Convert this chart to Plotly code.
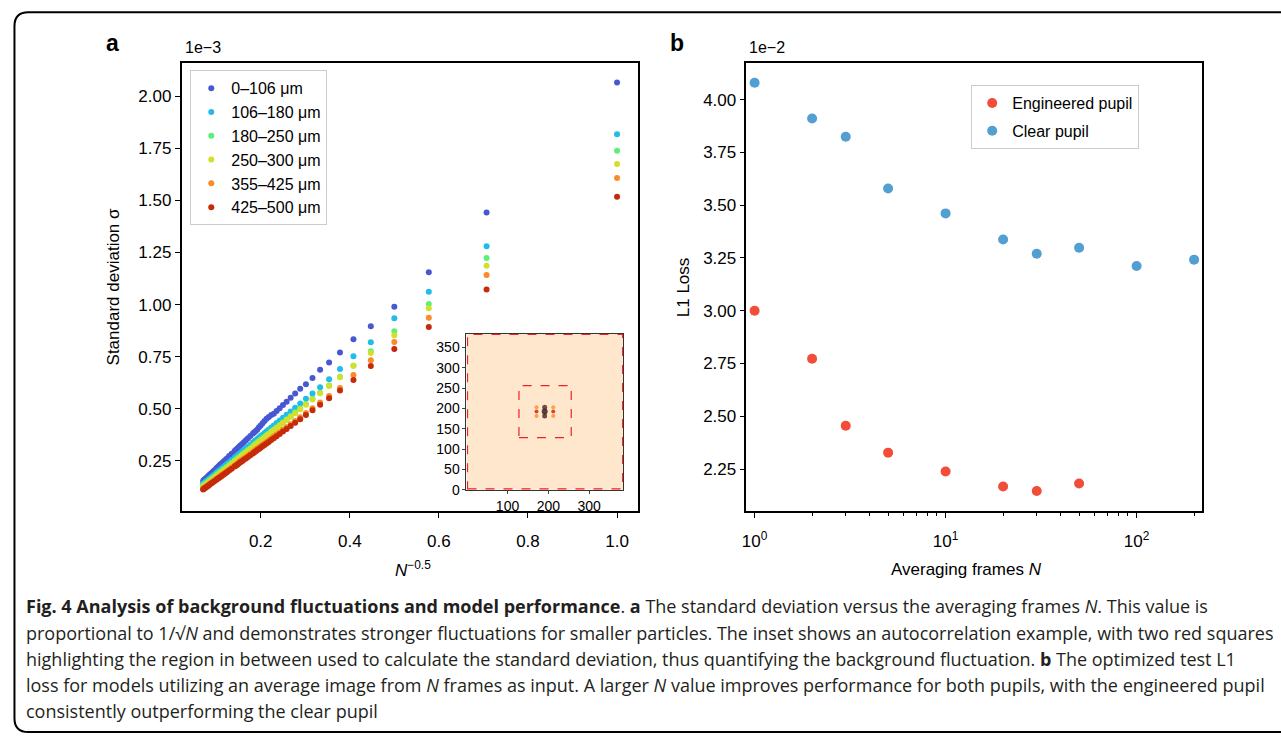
import plotly.graph_objects as go

W, H = 1281, 744

# ---------------- Panel a data ----------------
N_FRAMES_A = list(range(1, 31)) + [32, 34, 36, 38, 40, 42, 44, 46, 48, 50] + \
    [55, 60, 65, 70, 75, 80, 85, 90, 95, 100] + [110, 120, 130, 140, 150, 160, 170, 180, 190, 200]

SIZE_LABELS = ["0–106 μm", "106–180 μm", "180–250 μm", "250–300 μm", "355–425 μm", "425–500 μm"]

SIGMA_0_106 = [2.066, 1.442, 1.155, 0.990, 0.896, 0.834, 0.770,
               0.722, 0.687, 0.648, 0.618, 0.596, 0.573,
               0.553, 0.534, 0.518, 0.503, 0.489, 0.476, 0.470, 0.461, 0.452, 0.441, 0.431, 0.420,
               0.411, 0.401, 0.394, 0.387, 0.381,
               0.369, 0.359, 0.349, 0.340, 0.331, 0.324, 0.317, 0.310, 0.303, 0.298,
               0.284, 0.273, 0.262, 0.253, 0.245, 0.238, 0.231, 0.225, 0.219, 0.214,
               0.204, 0.196, 0.189, 0.182, 0.176, 0.171, 0.166, 0.162, 0.158, 0.154]
SIGMA_106_180 = [1.817, 1.280, 1.062, 0.935, 0.819, 0.752, 0.691, 0.642, 0.604,
                 0.573, 0.548, 0.525, 0.505, 0.487, 0.471, 0.457, 0.444, 0.432, 0.420, 0.410,
                 0.401, 0.392, 0.384, 0.376, 0.369, 0.362, 0.355, 0.349, 0.343, 0.338,
                 0.328, 0.318, 0.310, 0.302, 0.295, 0.288, 0.282, 0.276, 0.270, 0.265,
                 0.254, 0.244, 0.235, 0.227, 0.220, 0.213, 0.207, 0.202, 0.197, 0.192,
                 0.184, 0.177, 0.171, 0.165, 0.160, 0.155, 0.151, 0.147, 0.144, 0.141]
SIGMA_180_250 = [1.738, 1.223, 1.003, 0.872, 0.776, 0.706, 0.654, 0.612,
                 0.577, 0.548, 0.523, 0.502, 0.483, 0.466, 0.450, 0.436, 0.424, 0.412, 0.401,
                 0.392, 0.382, 0.374, 0.366, 0.359, 0.352, 0.345, 0.339, 0.333, 0.327, 0.322,
                 0.312, 0.303, 0.295, 0.288, 0.281, 0.274, 0.268, 0.263, 0.257, 0.252,
                 0.241, 0.232, 0.223, 0.215, 0.209, 0.202, 0.197, 0.191, 0.187, 0.182,
                 0.174, 0.168, 0.161, 0.156, 0.151, 0.147, 0.143, 0.139, 0.136, 0.133]
SIGMA_250_300 = [1.674, 1.186, 0.983, 0.853, 0.768, 0.706, 0.651,
                 0.609, 0.575, 0.545, 0.520, 0.498, 0.479, 0.462, 0.446, 0.432, 0.419, 0.408,
                 0.397, 0.387, 0.378, 0.369, 0.361, 0.353, 0.346, 0.340, 0.334, 0.328, 0.322, 0.317,
                 0.307, 0.298, 0.289, 0.282, 0.275, 0.268, 0.262, 0.256, 0.251, 0.246,
                 0.235, 0.225, 0.216, 0.209, 0.202, 0.195, 0.190, 0.184, 0.180, 0.175,
                 0.167, 0.160, 0.154, 0.149, 0.144, 0.139, 0.135, 0.132, 0.128, 0.125]
SIGMA_355_425 = [1.607, 1.142, 0.937, 0.820, 0.733, 0.662, 0.600,
                 0.562, 0.530, 0.503, 0.480, 0.460, 0.442, 0.426, 0.412, 0.399, 0.387, 0.377,
                 0.367, 0.358, 0.349, 0.341, 0.334, 0.327, 0.320, 0.314, 0.309, 0.303, 0.298, 0.293,
                 0.284, 0.276, 0.268, 0.261, 0.255, 0.249, 0.243, 0.238, 0.233, 0.228,
                 0.218, 0.209, 0.201, 0.194, 0.188, 0.182, 0.177, 0.172, 0.167, 0.163,
                 0.156, 0.150, 0.144, 0.139, 0.134, 0.130, 0.127, 0.123, 0.120, 0.117]
SIGMA_425_500 = [1.517, 1.073, 0.892, 0.787, 0.705, 0.638, 0.588,
                 0.551, 0.519, 0.493, 0.470, 0.450, 0.433, 0.417, 0.403, 0.391, 0.379, 0.368,
                 0.359, 0.350, 0.341, 0.334, 0.326, 0.320, 0.313, 0.307, 0.302, 0.296, 0.291, 0.286,
                 0.277, 0.269, 0.262, 0.255, 0.248, 0.243, 0.237, 0.232, 0.227, 0.223,
                 0.212, 0.204, 0.196, 0.189, 0.183, 0.177, 0.172, 0.167, 0.163, 0.159,
                 0.151, 0.145, 0.140, 0.135, 0.130, 0.126, 0.123, 0.119, 0.116, 0.113]
SIGMA_SERIES = [SIGMA_0_106, SIGMA_106_180, SIGMA_180_250, SIGMA_250_300, SIGMA_355_425, SIGMA_425_500]
COLORS_A = ["#4658d2", "#22bce8", "#5cf07a", "#d3e02b", "#fb8a2a", "#c62b09"]

TICKS_A_X = [0.2, 0.4, 0.6, 0.8, 1.0]
TICKS_A_Y = [0.25, 0.50, 0.75, 1.00, 1.25, 1.50, 1.75, 2.00]

# ---------------- Inset data ----------------
INSET_SIZE = 384
INSET_TICKS_X = [100, 200, 300]
INSET_TICKS_Y = [0, 50, 100, 150, 200, 250, 300, 350]
INSET_BG_LEVEL = 0.048
SPOT_X = [171, 171, 171, 191, 191, 191, 212, 212, 212]
SPOT_Y = [181, 192, 203, 181, 192, 203, 181, 192, 203]
SPOT_V = [0.25, 0.5, 0.25, 0.8, 1.0, 0.8, 0.25, 0.5, 0.25]
SPOT_SIZE = [4, 4, 4, 5, 6, 5, 4, 4, 4]
INNER_BOX = [128, 256]
OUTER_BOX = [2, 382]
HEAT = [[0, "rgb(255,255,255)"], [0.25, "rgb(255,128,0)"], [0.5, "rgb(191,0,0)"], [1, "rgb(0,0,0)"]]

# ---------------- Panel b data ----------------
FRAMES_ENG = [1, 2, 3, 5, 10, 20, 30, 50]
L1_ENG = [3.000, 2.773, 2.455, 2.328, 2.239, 2.168, 2.146, 2.182]
FRAMES_CLEAR = [1, 2, 3, 5, 10, 20, 30, 50, 100, 200]
L1_CLEAR = [4.080, 3.910, 3.824, 3.579, 3.461, 3.337, 3.270, 3.298, 3.212, 3.242]
SERIES_B = ["Engineered pupil", "Clear pupil"]
COLORS_B = ["#f24d38", "#529fd2"]
TICKS_B_X = [1, 10, 100]
TICKTEXT_B_X = ["10<sup>0</sup>", "10<sup>1</sup>", "10<sup>2</sup>"]
MINOR_B_X = [2, 3, 4, 5, 6, 7, 8, 9, 20, 30, 40, 50, 60, 70, 80, 90, 200]
TICKS_B_Y = [2.25, 2.50, 2.75, 3.00, 3.25, 3.50, 3.75, 4.00]

CAPTION = [
    "<b>Fig. 4 Analysis of background fluctuations and model performance</b>. <b>a</b> The standard deviation versus the averaging frames <i>N</i>. This value is",
    "proportional to 1/√<i>N</i> and demonstrates stronger fluctuations for smaller particles. The inset shows an autocorrelation example, with two red squares",
    "highlighting the region in between used to calculate the standard deviation, thus quantifying the background fluctuation. <b>b</b> The optimized test L1",
    "loss for models utilizing an average image from <i>N</i> frames as input. A larger <i>N</i> value improves performance for both pupils, with the engineered pupil",
    "consistently outperforming the clear pupil",
]

FONT = "Liberation Sans, Arial, sans-serif"
CAP_FONT = "Open Sans, Noto Sans, sans-serif"
TICK_SIZE = 17


def px(x):
    return x / W


def py(y):
    return 1 - y / H


fig = go.Figure()

for label, vals, col in zip(SIZE_LABELS, SIGMA_SERIES, COLORS_A):
    fig.add_trace(go.Scatter(
        x=[n ** -0.5 for n in N_FRAMES_A], y=vals, mode="markers", name=label,
        marker=dict(size=6, color=col, line=dict(width=0)),
        legend="legend", legendgroup=label, xaxis="x", yaxis="y"))

fig.add_trace(go.Heatmap(
    z=[[INSET_BG_LEVEL]], x0=(INSET_SIZE - 1) / 2, dx=INSET_SIZE, y0=(INSET_SIZE - 1) / 2, dy=INSET_SIZE,
    zmin=0, zmax=1, colorscale=HEAT, showscale=False, hoverinfo="skip", xaxis="x3", yaxis="y3"))
fig.add_trace(go.Scatter(
    x=SPOT_X, y=SPOT_Y, mode="markers", showlegend=False,
    marker=dict(color=SPOT_V, colorscale=HEAT, cmin=0, cmax=1, size=SPOT_SIZE, line=dict(width=0)),
    xaxis="x3", yaxis="y3"))

for name, fx, fy, col in zip(SERIES_B, [FRAMES_ENG, FRAMES_CLEAR], [L1_ENG, L1_CLEAR], COLORS_B):
    fig.add_trace(go.Scatter(
        x=fx, y=fy, mode="markers", name=name,
        marker=dict(size=10, color=col, line=dict(width=0)),
        legend="legend2", legendgroup=name, xaxis="x2", yaxis="y2"))

axis_common = dict(showline=True, mirror=True, linecolor="black", linewidth=1.5, ticks="outside",
                   ticklen=5, tickwidth=1.2, tickcolor="black", showgrid=False, zeroline=False,
                   tickfont=dict(family=FONT, size=TICK_SIZE, color="black"))

ydom = [py(516.7), py(63.3)]
fig.update_layout(
    width=W, height=H, margin=dict(l=0, r=0, t=0, b=0),
    paper_bgcolor="white", plot_bgcolor="white",
    font=dict(family=FONT, color="black"),
    xaxis=dict(domain=[px(177.3), px(635)], range=[0.0224, 1.046], tickvals=TICKS_A_X, tickformat=".1f",
               anchor="y", ticklabelstandoff=9, **axis_common),
    yaxis=dict(domain=ydom, range=[0.009, 2.161], tickvals=TICKS_A_Y, tickformat=".2f",
               anchor="x", **axis_common),
    xaxis2=dict(domain=[px(744.3), px(1202)], type="log", range=[-0.043, 2.344], tickvals=TICKS_B_X,
                ticktext=TICKTEXT_B_X, anchor="y2", ticklabelstandoff=9,
                minor=dict(tickvals=MINOR_B_X, ticks="outside", ticklen=3, tickwidth=1, tickcolor="black",
                           showgrid=False),
                **axis_common),
    yaxis2=dict(domain=ydom, range=[2.051, 4.175], tickvals=TICKS_B_Y, tickformat=".2f",
                anchor="x2", **axis_common),
    xaxis3=dict(domain=[px(463.3), px(620.7)], range=[-0.5, INSET_SIZE - 0.5], tickvals=INSET_TICKS_X,
                anchor="y3", showline=True, mirror=True, linecolor="#333", linewidth=1, ticks="outside",
                ticklen=3, tickwidth=1, showgrid=False, zeroline=False,
                tickfont=dict(family=FONT, size=14, color="black")),
    yaxis3=dict(domain=[py(495.3), py(337.3)], range=[-0.5, INSET_SIZE - 0.5], tickvals=INSET_TICKS_Y,
                anchor="x3", showline=True, mirror=True, linecolor="#333", linewidth=1, ticks="outside",
                ticklen=3, tickwidth=1, showgrid=False, zeroline=False,
                tickfont=dict(family=FONT, size=14, color="black")),
    legend=dict(x=px(186), y=py(71), xanchor="left", yanchor="top", bgcolor="rgba(255,255,255,0.85)",
                bordercolor="#cccccc", borderwidth=1, font=dict(family=FONT, size=16), tracegroupgap=0,
                itemwidth=30),
    legend2=dict(x=px(970), y=py(86), xanchor="left", yanchor="top", bgcolor="rgba(255,255,255,0.85)",
                 bordercolor="#cccccc", borderwidth=1, font=dict(family=FONT, size=16), tracegroupgap=4,
                 itemwidth=30),
)

shapes = []
for box in (INNER_BOX, OUTER_BOX):
    shapes.append(dict(type="rect", xref="x3", yref="y3", x0=box[0], x1=box[1], y0=box[0], y1=box[1],
                       line=dict(color="#ee2222", width=1.2, dash="dash"), layer="above"))
# rounded figure frame
x0, y0, y1, r, xr = 9.5, 12.5, 740, 14, 1300
path = (f"M {px(xr)},{py(y0)} L {px(x0 + r)},{py(y0)} Q {px(x0)},{py(y0)} {px(x0)},{py(y0 + r)} "
        f"L {px(x0)},{py(y1 - r)} Q {px(x0)},{py(y1)} {px(x0 + r)},{py(y1)} L {px(xr)},{py(y1)}")
shapes.append(dict(type="path", xref="paper", yref="paper", path=path, line=dict(color="black", width=2)))
fig.update_layout(shapes=shapes)

ann = []


def add_text(text, x, y, size=17, xanchor="center", yanchor="middle", angle=0, family=FONT):
    ann.append(dict(text=text, x=px(x), y=py(y), xref="paper", yref="paper", showarrow=False,
                    xanchor=xanchor, yanchor=yanchor, textangle=angle,
                    font=dict(family=family, size=size, color="black")))


add_text("<b>a</b>", 108, 43, size=23)
add_text("<b>b</b>", 675, 43, size=23)
add_text("1e−3", 179, 48, size=16, xanchor="left")
add_text("1e−2", 745, 48, size=16, xanchor="left")
add_text("Standard deviation σ", 109, 290, angle=-90)
add_text("<i>N</i><sup>−0.5</sup>", 410, 575)
add_text("L1 Loss", 682, 290, angle=-90)
add_text("Averaging frames <i>N</i>", 965, 576)
for i, line in enumerate(CAPTION):
    ann.append(dict(text=line, x=px(19), y=py(613 + 26.5 * i), xref="paper", yref="paper", showarrow=False,
                    xanchor="left", yanchor="middle", font=dict(family=CAP_FONT, size=18, color="#231f20")))
fig.update_layout(annotations=ann)

fig.write_html("out.html")
